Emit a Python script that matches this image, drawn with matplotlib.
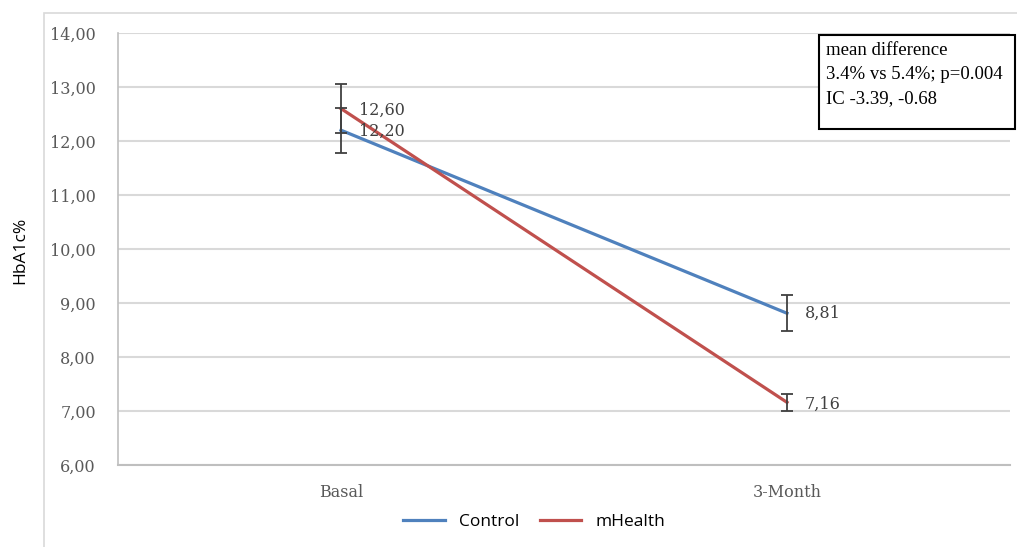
import matplotlib.pyplot as plt
from matplotlib.patches import Rectangle
from matplotlib.lines import Line2D

# data
categories = ['Basal', '3-Month']
control = [12.20, 8.81]
control_err = [0.42, 0.33]
mhealth = [12.60, 7.16]
mhealth_err = [0.46, 0.16]
ticks = [6, 7, 8, 9, 10, 11, 12, 13, 14]
box_text = "mean difference\n3.4% vs 5.4%; p=0.004\nIC -3.39, -0.68"

blue = '#4F81BD'
red = '#C0504D'
grid_col = '#D9D9D9'

fig = plt.figure(figsize=(10.17, 5.47), dpi=100)
W, H = 1017, 547

# outer chart frame (light gray)
fig.patches.append(Rectangle((44 / W, -0.01), 1.1, 1 - 13 / H + 0.01, transform=fig.transFigure,
                             fill=False, edgecolor='#D9D9D9', linewidth=1.2))

ax = fig.add_axes([118 / W, 1 - 465 / H, (1010 - 118) / W, (465 - 33) / H])
x = [0, 1]
ax.set_xlim(-0.5, 1.5)
ax.set_ylim(6, 14)

ax.plot(x, control, color=blue, linewidth=2.3, zorder=3)
ax.plot(x, mhealth, color=red, linewidth=2.3, zorder=3)
ax.errorbar(x, control, yerr=control_err, fmt='none', ecolor='#404040', elinewidth=1.3,
            capsize=4, capthick=1.3, zorder=4)
ax.errorbar(x, mhealth, yerr=mhealth_err, fmt='none', ecolor='#404040', elinewidth=1.3,
            capsize=4, capthick=1.3, zorder=4)

# data labels
lab_font = dict(family='DejaVu Serif', fontsize=11.5, color='#404040', va='center', ha='left')
c_off = [-1, 0]
m_off = [-1.5, -1.5]
for i in range(2):
    ax.annotate(f"{control[i]:.2f}".replace('.', ','), (x[i], control[i]), xytext=(13, c_off[i]),
                textcoords='offset points', **lab_font)
    ax.annotate(f"{mhealth[i]:.2f}".replace('.', ','), (x[i], mhealth[i]), xytext=(13, m_off[i]),
                textcoords='offset points', **lab_font)

ax.set_yticks(ticks)
ax.set_yticklabels([f"{t:.2f}".replace('.', ',') for t in ticks], family='DejaVu Serif',
                   fontsize=11.5, color='#595959')
ax.set_xticks(x)
ax.set_xticklabels(categories, family='DejaVu Serif', fontsize=11.5, color='#595959')
ax.tick_params(axis='y', length=0, pad=16)
ax.tick_params(axis='x', length=0, pad=14)
ax.grid(axis='y', color=grid_col, linewidth=1.5)
ax.set_axisbelow(True)
for s in ['top', 'right']:
    ax.spines[s].set_visible(False)
ax.spines['left'].set_color('#BFBFBF')
ax.spines['bottom'].set_color('#BFBFBF')
ax.spines['left'].set_linewidth(1.2)
ax.spines['bottom'].set_linewidth(1.5)

fig.text(20 / W, 1 - 250 / H, 'HbA1c%', rotation=90, va='center', ha='center',
         family='Open Sans', fontsize=12.5)

# annotation box
fig.patches.append(Rectangle((819 / W, 1 - 129 / H), (1015 - 819) / W, (129 - 35) / H,
                             transform=fig.transFigure, fill=True, facecolor='white',
                             edgecolor='black', linewidth=1.5, zorder=5))
fig.text(826 / W, 1 - 42 / H, box_text, va='top', ha='left', family='Liberation Serif',
         fontsize=13.5, linespacing=1.55, zorder=6)

handles = [Line2D([], [], color=blue, linewidth=2.3), Line2D([], [], color=red, linewidth=2.3)]
fig.legend(handles, ['Control', 'mHealth'], loc='center', bbox_to_anchor=(534 / W, 1 - 522 / H),
           ncol=2, frameon=False, prop={'family': 'Open Sans', 'size': 12.5},
           handlelength=2.4, handletextpad=0.8, columnspacing=1.2)

fig.savefig('out.png', dpi=100)
